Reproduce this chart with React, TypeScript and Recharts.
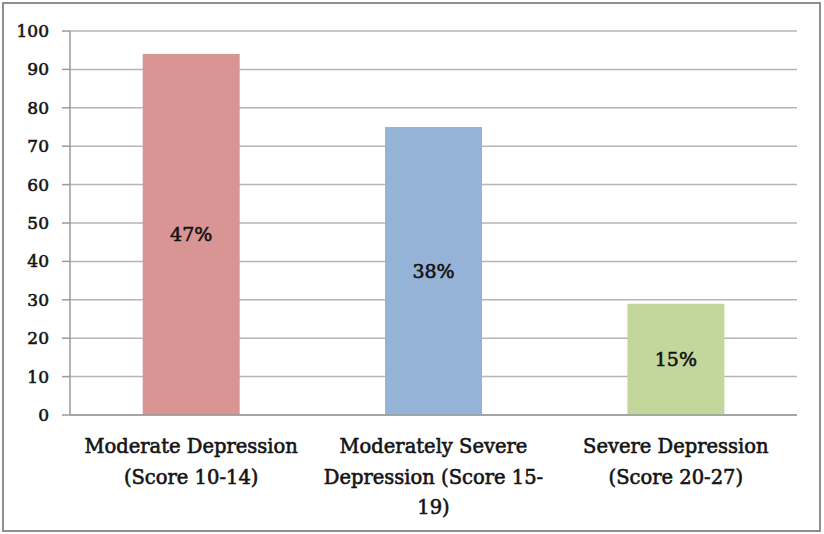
import React from "react";
import { BarChart, Bar, XAxis, YAxis, CartesianGrid, LabelList, Cell } from "recharts";

const categories = ["Moderate Depression (Score 10-14)", "Moderately Severe Depression (Score 15-19)", "Severe Depression (Score 20-27)"];
const categoryLines = [
  ["Moderate Depression", "(Score 10-14)"],
  ["Moderately Severe", "Depression (Score 15-", "19)"],
  ["Severe Depression", "(Score 20-27)"],
];
const counts = [94, 75, 29];
const percentLabels = ["47%", "38%", "15%"];
const barColors = ["#D99594", "#95B3D7", "#C3D69B"];
const yTicks = [0, 10, 20, 30, 40, 50, 60, 70, 80, 90, 100];

const data = categories.map((c, i) => ({ name: c, idx: i, value: counts[i], label: percentLabels[i] }));

const FONT = "DejaVu Serif";
const INK = "#141414";

const CatTick = (props: any) => {
  const { x, y, payload } = props;
  const lines = categoryLines[payload.index] || [String(payload.value)];
  return (
    <text x={x} y={y} textAnchor="middle" style={{ fontFamily: FONT, fontWeight: 400, fontSize: 19.5 }} fill={INK} stroke={INK} strokeWidth={0.6}>
      {lines.map((l, i) => (
        <tspan key={i} x={x} y={y + 30 + i * 30.5}>{l}</tspan>
      ))}
    </text>
  );
};

export default function App() {
  return (
    <div style={{ position: "absolute", left: 0, top: 0, width: 824, height: 534, background: "#fff" }}>
      <div style={{ position: "absolute", left: 2, top: 2, width: 815, height: 526, border: "2px solid #8f8f8f" }} />
      <div style={{ position: "absolute", left: 0, top: 0 }}>
        <BarChart width={824} height={534} data={data} margin={{ top: 31, right: 27, bottom: 19, left: 0 }} barCategoryGap="30%">
          <CartesianGrid vertical={false} stroke="#b5b5b5" strokeWidth={1.5} />
          <XAxis xAxisId="edges" type="number" domain={[0, 3]} ticks={[0, 1, 2, 3]} height={0} axisLine={false} tickLine={{ stroke: "#9a9a9a", strokeWidth: 1.5 }} tickSize={7} tick={false} allowDataOverflow />
          <XAxis xAxisId="cat" dataKey="name" type="category" height={100} axisLine={{ stroke: "#9a9a9a", strokeWidth: 1.5 }} tickLine={false} tick={<CatTick />} interval={0} />
          <YAxis domain={[0, 100]} ticks={yTicks} width={70} axisLine={{ stroke: "#9a9a9a", strokeWidth: 1.5 }} tickLine={{ stroke: "#9a9a9a", strokeWidth: 1.5 }} tickSize={8} tickMargin={13} tick={{ style: { fontFamily: FONT, fontWeight: 400, fontSize: 17 }, fill: INK, stroke: INK, strokeWidth: 0.6 }} interval={0} />
          <Bar xAxisId="cat" dataKey="value" isAnimationActive={false}>
            {data.map((d, i) => (
              <Cell key={i} fill={barColors[i]} />
            ))}
            <LabelList dataKey="label" position="center" fill={INK} stroke={INK} strokeWidth={0.6} style={{ fontFamily: FONT, fontWeight: 400, fontSize: 19 }} />
          </Bar>
        </BarChart>
      </div>
    </div>
  );
}
